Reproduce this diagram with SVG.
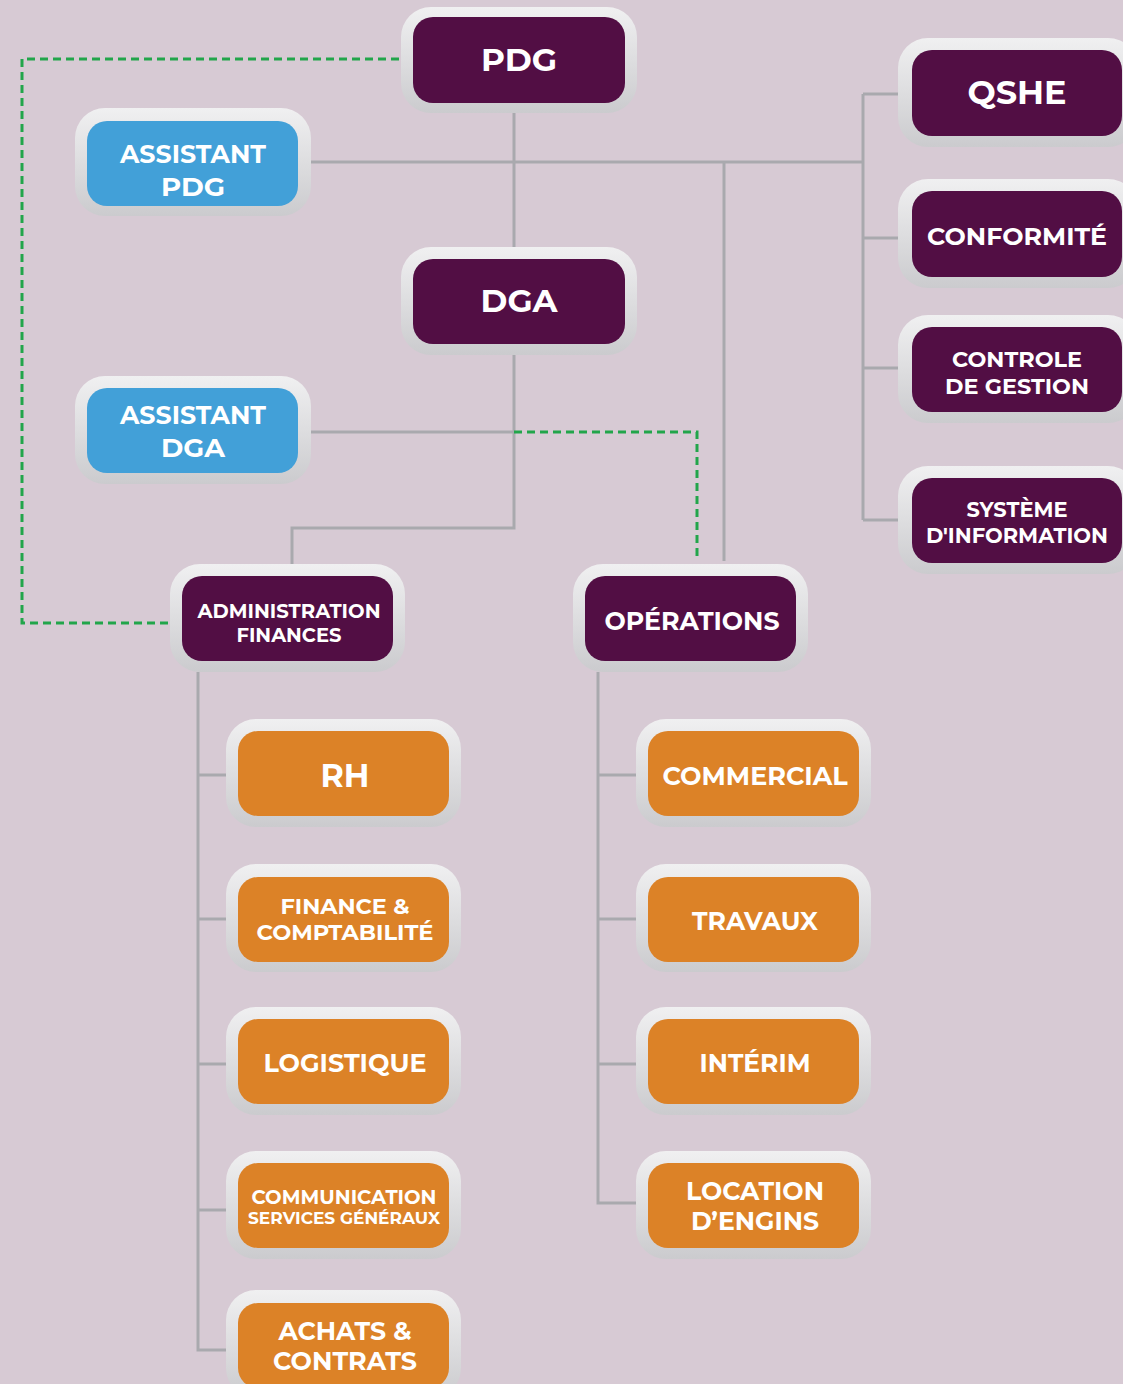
<svg xmlns="http://www.w3.org/2000/svg" width="1123" height="1384" viewBox="0 0 1123 1384">
<defs>
<linearGradient id="frame" x1="0" y1="0" x2="0" y2="1">
<stop offset="0" stop-color="#f0f0f1"/>
<stop offset="1" stop-color="#cbcbce"/>
</linearGradient>
<style>
.fr{fill:url(#frame)}
.p{fill:#520e44}
.b{fill:#42a0d8}
.o{fill:#dc8227}
.t{fill:#ffffff;font-family:Montserrat,"Open Sans","DejaVu Sans",sans-serif;font-weight:700;text-anchor:middle}
.c{fill:none;stroke:#a9a9ae;stroke-width:3}
.d{fill:none;stroke:#22a54b;stroke-width:3;stroke-dasharray:8 5}
</style>
</defs>
<rect width="1123" height="1384" fill="#d7cad4"/>
<g id="connectors">
<path class="c" d="M514 113V247"/>
<path class="c" d="M311 162H863"/>
<path class="c" d="M863 94V520M863 94H898M863 238H898M863 368H898M863 520H898"/>
<path class="c" d="M724 162V561"/>
<path class="c" d="M514 355V528H292V564"/>
<path class="c" d="M311 432H514"/>
<path class="d" d="M514 432H697V561"/>
<path class="d" d="M399 59H22V623H168"/>
<path class="c" d="M198 672V1350H226M198 775H226M198 919H226M198 1064H226M198 1210H226"/>
<path class="c" d="M598 672V1203H636M598 775H636M598 919H636M598 1064H636"/>
</g>
<g id="pdg"><rect class="fr" x="401" y="7" width="236" height="106" rx="30"/><rect class="p" x="413" y="17" width="212" height="86" rx="20"/><text class="t" x="519" y="71" font-size="31" textLength="76" lengthAdjust="spacingAndGlyphs">PDG</text></g>
<g id="assistant-pdg"><rect class="fr" x="75" y="108" width="236" height="108" rx="30"/><rect class="b" x="87" y="121" width="211" height="85" rx="20"/><text class="t" x="193" y="163" font-size="26" textLength="146" lengthAdjust="spacingAndGlyphs">ASSISTANT</text><text class="t" x="193" y="196" font-size="26" textLength="64" lengthAdjust="spacingAndGlyphs">PDG</text></g>
<g id="dga"><rect class="fr" x="401" y="247" width="236" height="108" rx="30"/><rect class="p" x="413" y="259" width="212" height="85" rx="20"/><text class="t" x="519" y="312" font-size="31" textLength="77" lengthAdjust="spacingAndGlyphs">DGA</text></g>
<g id="assistant-dga"><rect class="fr" x="75" y="376" width="236" height="108" rx="30"/><rect class="b" x="87" y="388" width="211" height="85" rx="20"/><text class="t" x="193" y="424" font-size="26" textLength="146" lengthAdjust="spacingAndGlyphs">ASSISTANT</text><text class="t" x="193" y="457" font-size="26" textLength="64" lengthAdjust="spacingAndGlyphs">DGA</text></g>
<g id="qshe"><rect class="fr" x="898" y="38" width="240" height="109" rx="30"/><rect class="p" x="912" y="50" width="210" height="86" rx="20"/><text class="t" x="1017" y="104" font-size="32" textLength="99" lengthAdjust="spacingAndGlyphs">QSHE</text></g>
<g id="conformite"><rect class="fr" x="898" y="179" width="240" height="109" rx="30"/><rect class="p" x="912" y="191" width="210" height="86" rx="20"/><text class="t" x="1017" y="245" font-size="24" textLength="180" lengthAdjust="spacingAndGlyphs">CONFORMITÉ</text></g>
<g id="controle-gestion"><rect class="fr" x="898" y="315" width="240" height="108" rx="30"/><rect class="p" x="912" y="327" width="210" height="85" rx="20"/><text class="t" x="1017" y="367" font-size="22" textLength="130" lengthAdjust="spacingAndGlyphs">CONTROLE</text><text class="t" x="1017" y="394" font-size="22" textLength="144" lengthAdjust="spacingAndGlyphs">DE GESTION</text></g>
<g id="systeme-information"><rect class="fr" x="898" y="466" width="240" height="108" rx="30"/><rect class="p" x="912" y="478" width="210" height="85" rx="20"/><text class="t" x="1017" y="517" font-size="21" textLength="101" lengthAdjust="spacingAndGlyphs">SYSTÈME</text><text class="t" x="1017" y="543" font-size="21" textLength="182" lengthAdjust="spacingAndGlyphs">D'INFORMATION</text></g>
<g id="administration-finances"><rect class="fr" x="170" y="564" width="235" height="108" rx="30"/><rect class="p" x="182" y="576" width="211" height="85" rx="20"/><text class="t" x="289" y="618" font-size="19" textLength="183" lengthAdjust="spacingAndGlyphs">ADMINISTRATION</text><text class="t" x="289" y="642" font-size="19" textLength="105" lengthAdjust="spacingAndGlyphs">FINANCES</text></g>
<g id="operations"><rect class="fr" x="573" y="564" width="235" height="108" rx="30"/><rect class="p" x="585" y="576" width="211" height="85" rx="20"/><text class="t" x="692" y="630" font-size="25" textLength="175" lengthAdjust="spacingAndGlyphs">OPÉRATIONS</text></g>
<g id="rh"><rect class="fr" x="226" y="719" width="235" height="108" rx="30"/><rect class="o" x="238" y="731" width="211" height="85" rx="20"/><text class="t" x="345" y="787" font-size="32" textLength="49" lengthAdjust="spacingAndGlyphs">RH</text></g>
<g id="finance-comptabilite"><rect class="fr" x="226" y="864" width="235" height="108" rx="30"/><rect class="o" x="238" y="877" width="211" height="85" rx="20"/><text class="t" x="345" y="914" font-size="22" textLength="129" lengthAdjust="spacingAndGlyphs">FINANCE &amp;</text><text class="t" x="345" y="940" font-size="22" textLength="177" lengthAdjust="spacingAndGlyphs">COMPTABILITÉ</text></g>
<g id="logistique"><rect class="fr" x="226" y="1007" width="235" height="108" rx="30"/><rect class="o" x="238" y="1019" width="211" height="85" rx="20"/><text class="t" x="345" y="1072" font-size="25" textLength="163" lengthAdjust="spacingAndGlyphs">LOGISTIQUE</text></g>
<g id="communication"><rect class="fr" x="226" y="1151" width="235" height="108" rx="30"/><rect class="o" x="238" y="1163" width="211" height="85" rx="20"/><text class="t" x="344" y="1204" font-size="20" textLength="185" lengthAdjust="spacingAndGlyphs">COMMUNICATION</text><text class="t" x="344" y="1224" font-size="17" textLength="192" lengthAdjust="spacingAndGlyphs">SERVICES GÉNÉRAUX</text></g>
<g id="achats-contrats"><rect class="fr" x="226" y="1290" width="235" height="108" rx="30"/><rect class="o" x="238" y="1303" width="211" height="85" rx="20"/><text class="t" x="345" y="1340" font-size="26" textLength="133" lengthAdjust="spacingAndGlyphs">ACHATS &amp;</text><text class="t" x="345" y="1370" font-size="26" textLength="144" lengthAdjust="spacingAndGlyphs">CONTRATS</text></g>
<g id="commercial"><rect class="fr" x="636" y="719" width="235" height="108" rx="30"/><rect class="o" x="648" y="731" width="211" height="85" rx="20"/><text class="t" x="755" y="785" font-size="25" textLength="185" lengthAdjust="spacingAndGlyphs">COMMERCIAL</text></g>
<g id="travaux"><rect class="fr" x="636" y="864" width="235" height="108" rx="30"/><rect class="o" x="648" y="877" width="211" height="85" rx="20"/><text class="t" x="755" y="930" font-size="26" textLength="126" lengthAdjust="spacingAndGlyphs">TRAVAUX</text></g>
<g id="interim"><rect class="fr" x="636" y="1007" width="235" height="108" rx="30"/><rect class="o" x="648" y="1019" width="211" height="85" rx="20"/><text class="t" x="755" y="1072" font-size="25" textLength="111" lengthAdjust="spacingAndGlyphs">INTÉRIM</text></g>
<g id="location-engins"><rect class="fr" x="636" y="1151" width="235" height="108" rx="30"/><rect class="o" x="648" y="1163" width="211" height="85" rx="20"/><text class="t" x="755" y="1200" font-size="26" textLength="138" lengthAdjust="spacingAndGlyphs">LOCATION</text><text class="t" x="755" y="1230" font-size="26" textLength="128" lengthAdjust="spacingAndGlyphs">D’ENGINS</text></g>
</svg>
